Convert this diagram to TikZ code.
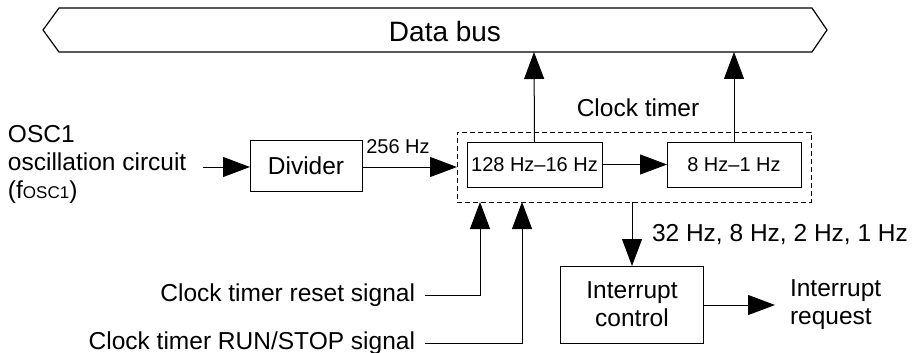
\documentclass[tikz,border=0pt]{standalone}
\usepackage{fontspec}
\setmainfont{Liberation Sans}
\usetikzlibrary{arrows.meta}
\tikzset{
  every node/.style={inner sep=0pt, outer sep=0pt},
  lbl/.style={font=\fontsize{24.5}{28}\selectfont},
  smalllbl/.style={font=\fontsize{20}{24}\selectfont},
  blk/.style={draw, line width=1pt, font=\fontsize{24.5}{28}\selectfont, align=center},
  sblk/.style={draw, line width=1pt, font=\fontsize{20}{24}\selectfont, align=center},
  conn/.style={line width=1pt, -{Triangle[length=27pt,width=20pt]}},
  wire/.style={line width=1pt},
}
\begin{document}
\begin{tikzpicture}[x=1pt,y=-1pt]
\useasboundingbox (0,0) rectangle (921,353);
% data bus
\draw[line width=1.2pt] (43,30) -- (59,8) -- (812,8) -- (827,30) -- (812,52) -- (59,52) -- cycle;
\node[font=\fontsize{28}{32}\selectfont] (busl) at (445,31) {Data bus};
\coordinate (bus1) at (534,52);
\coordinate (bus2) at (734,52);
% clock timer
\node[draw, dashed, dash pattern=on 5pt off 3pt, line width=1pt, minimum width=354pt, minimum height=70pt] (timer) at (634,167) {};
\node[lbl] (ctl) at (638,108) {Clock timer};
\node[sblk, minimum width=135pt, minimum height=45pt] (b1) at (534.5,164.5) {128 Hz--16 Hz};
\node[sblk, minimum width=134pt, minimum height=45pt] (b2) at (734,164.5) {8 Hz--1 Hz};
\draw[conn] (b1.east) -- (b2.west);
\draw[conn] (b1.north) -- (bus1);
\draw[conn] (b2.north) -- (bus2);
% divider
\node[blk, minimum width=112pt, minimum height=51pt] (div) at (306,166) {Divider};
\node[lbl, anchor=west, align=left] (osc) at (8,164.5) {OSC1\\oscillation circuit\\(f{\fontsize{17}{17}\selectfont OSC1})};
\coordinate (oscend) at (203,167);
\draw[conn] (oscend) -- (div.west |- oscend);
\draw[conn] (div.east |- oscend) -- (timer.west |- oscend);
\node[smalllbl] (f256) at (398,147) {256 Hz};
% interrupt
\node[blk, minimum width=143pt, minimum height=77pt] (intr) at (632,304.5) {Interrupt\\control};
\draw[conn] (timer.south -| intr.north) -- (intr.north);
\node[lbl, anchor=west] (freq) at (652,235) {32 Hz, 8 Hz, 2 Hz, 1 Hz};
\coordinate (irqend) at (775,305);
\draw[conn] (intr.east |- irqend) -- (irqend);
\node[lbl, anchor=west, align=left] (irq) at (790,305) {Interrupt\\request};
% control signals
\node[lbl, anchor=east] (rst) at (415,295) {Clock timer reset signal};
\node[lbl, anchor=east] (run) at (415,343) {Clock timer RUN/STOP signal};
\coordinate (rstw) at (425,295);
\coordinate (runw) at (425,343);
\coordinate (rstc) at (480,295);
\coordinate (runc) at (522,343);
\draw[conn] (rstw) -- (rstc) -- (rstc |- timer.south);
\draw[conn] (runw) -- (runc) -- (runc |- timer.south);
\end{tikzpicture}
\end{document}
